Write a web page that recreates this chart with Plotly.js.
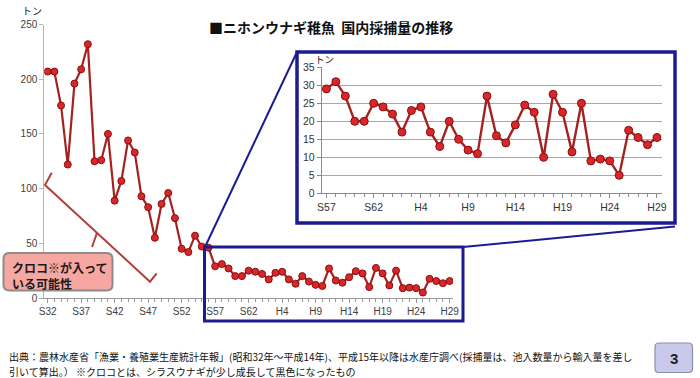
<!DOCTYPE html>
<html>
<head>
<meta charset="utf-8">
<script src="https://cdn.plot.ly/plotly-3.0.1.min.js"></script>
<style>
html,body{margin:0;padding:0;background:#fff;}
#chart{width:700px;height:378px;}
</style>
</head>
<body>
<div id="chart"></div>
<script>
// ---- data ----
const earlyYears = [1957,1958,1959,1960,1961,1962,1963,1964,1965,1966,1967,1968,1969,1970,1971,1972,1973,1974,1975,1976,1977,1978,1979,1980,1981];
const earlyCatch = [207,207,176,122,196,209,232,125,126,150,89,107,144,133,93,83,55,86,96,73,45,42,57,47,46];
const recentYears = [1982,1983,1984,1985,1986,1987,1988,1989,1990,1991,1992,1993,1994,1995,1996,1997,1998,1999,2000,2001,2002,2003,2004,2005,2006,2007,2008,2009,2010,2011,2012,2013,2014,2015,2016,2017];
const recentCatch = [29,31,27,20,20,25,24,22,17,23,24,17,13,20,15,12,11,27,16,14,19,24.5,22.5,10,27.5,22.5,11.5,25,9,9.5,9,5,17.5,15.5,13.5,15.5];
const mainTickYears = [1957,1962,1967,1972,1977,1982,1987,1992,1997,2002,2007,2012,2017];
const mainTickLabels = ['S32','S37','S42','S47','S52','S57','S62','H4','H9','H14','H19','H24','H29'];
const insetTickYears = [1982,1987,1992,1997,2002,2007,2012,2017];
const insetTickLabels = ['S57','S62','H4','H9','H14','H19','H24','H29'];
const unitLabel = 'トン';
const titleText = '■ニホンウナギ稚魚\u00a0\u00a0国内採捕量の推移';
const noteLines = ['クロコ※が入って','いる可能性'];
const footerLines = [
  '出典：農林水産省「漁業・養殖業生産統計年報」(昭和32年～平成14年)、平成15年以降は水産庁調べ(採捕量は、池入数量から輸入量を差し',
  '引いて算出。）\u00a0※クロコとは、シラスウナギが少し成長して黒色になったもの'
];
const pageNumber = '3';

// ---- helpers (pixel -> paper) ----
const W = 700, H = 378;
const px = x => x / W;
const py = y => 1 - y / H;
function P(x, y){ return px(x).toFixed(5) + ',' + py(y).toFixed(5); }
function roundRect(x0, y0, x1, y1, r){
  return 'M' + P(x0+r,y0) + ' L' + P(x1-r,y0) + ' Q' + P(x1,y0) + ' ' + P(x1,y0+r) +
         ' L' + P(x1,y1-r) + ' Q' + P(x1,y1) + ' ' + P(x1-r,y1) +
         ' L' + P(x0+r,y1) + ' Q' + P(x0,y1) + ' ' + P(x0,y1-r) +
         ' L' + P(x0,y0+r) + ' Q' + P(x0,y0) + ' ' + P(x0+r,y0) + ' Z';
}

const lineCol = '#a3221f';
const markFill = '#d8262a';
const markLine = '#8a0f0f';
const navy = '#1b1b93';
const jp = '"Noto Sans CJK JP", "Noto Sans", sans-serif';
const latin = '"Liberation Sans", Arial, sans-serif';

const mainYears = earlyYears.concat(recentYears);
const mainCatch = earlyCatch.concat(recentCatch);

const traces = [
  {x: mainYears, y: mainCatch, xaxis:'x', yaxis:'y', type:'scatter', mode:'lines+markers',
   line:{color:lineCol, width:2.2},
   marker:{size:7, color:markFill, line:{color:markLine, width:1}},
   hoverinfo:'skip', showlegend:false},
  {x: recentYears, y: recentCatch, xaxis:'x2', yaxis:'y2', type:'scatter', mode:'lines+markers',
   line:{color:lineCol, width:2.4},
   marker:{size:8, color:markFill, line:{color:markLine, width:1}},
   hoverinfo:'skip', showlegend:false}
];

const tickFont = {family: latin, size: 10, color: '#404040'};

const layout = {
  width: W, height: H, autosize: false,
  margin: {l:0, r:0, t:0, b:0},
  paper_bgcolor: '#ffffff', plot_bgcolor: 'rgba(0,0,0,0)',
  showlegend: false,
  xaxis: {domain:[px(44.3), px(453)], range:[1956.5, 2017.5], anchor:'y',
    tickmode:'array', tickvals: mainTickYears, ticktext: mainTickLabels,
    ticks:'outside', ticklen:4, tickcolor:'#9a9a9a', showline:true, linecolor:'#9a9a9a', linewidth:1,
    showgrid:false, zeroline:false, tickfont: tickFont, fixedrange:true,
    minor:{tickmode:'linear', tick0:1957, dtick:1, ticks:'outside', ticklen:3, tickcolor:'#9a9a9a', showgrid:false}},
  yaxis: {domain:[py(298), py(24.5)], range:[0, 250], anchor:'x',
    tickmode:'linear', tick0:0, dtick:50,
    ticks:'outside', ticklen:4, tickcolor:'#b5b5b5', showline:true, linecolor:'#b5b5b5', linewidth:1,
    showgrid:false, zeroline:false, tickfont: tickFont, fixedrange:true},
  xaxis2: {domain:[px(321.7), px(661.7)], range:[1981.5, 2017.5], anchor:'y2',
    tickmode:'array', tickvals: insetTickYears, ticktext: insetTickLabels,
    ticks:'outside', ticklen:4, tickcolor:'#8a8a8a', showline:true, linecolor:'#8a8a8a', linewidth:1,
    showgrid:false, zeroline:false, tickfont:{family: latin, size: 10.5, color:'#333'}, fixedrange:true,
    minor:{tickmode:'linear', tick0:1982, dtick:1, ticks:'outside', ticklen:3, tickcolor:'#8a8a8a', showgrid:false}},
  yaxis2: {domain:[py(193.3), py(67.3)], range:[0, 35], anchor:'x2',
    tickmode:'linear', tick0:0, dtick:5,
    ticks:'outside', ticklen:4, tickcolor:'#8a8a8a', showline:true, linecolor:'#8a8a8a', linewidth:1,
    showgrid:true, gridcolor:'#a8a8a8', gridwidth:1, zeroline:false,
    tickfont:{family: latin, size: 10.5, color:'#333'}, fixedrange:true},
  shapes: [
    // inset frame
    {type:'rect', xref:'paper', yref:'paper', x0:px(297), x1:px(675), y0:py(223), y1:py(52),
     line:{color:navy, width:3.5}, fillcolor:'rgba(0,0,0,0)', layer:'above'},
    // zoomed region frame
    {type:'rect', xref:'paper', yref:'paper', x0:px(204.5), x1:px(463), y0:py(321), y1:py(247),
     line:{color:navy, width:3}, fillcolor:'rgba(0,0,0,0)', layer:'above'},
    // connectors
    {type:'line', xref:'paper', yref:'paper', x0:px(205), y0:py(247), x1:px(297), y1:py(52),
     line:{color:navy, width:2}, layer:'above'},
    {type:'line', xref:'paper', yref:'paper', x0:px(463), y0:py(247), x1:px(675), y1:py(226.5),
     line:{color:navy, width:2}, layer:'above'},
    // bracket
    {type:'path', xref:'paper', yref:'paper',
     path:'M' + P(51.7,172.7) + ' L' + P(45,185) + ' L' + P(150,281.7) + ' L' + P(156.7,273.3),
     line:{color:'#b2403b', width:2}, layer:'above'},
    {type:'path', xref:'paper', yref:'paper',
     path:'M' + P(97,232.8) + ' L' + P(92,247),
     line:{color:'#b2403b', width:2}, layer:'above'},
    // note box
    {type:'path', xref:'paper', yref:'paper', path: roundRect(3.5, 253, 112.5, 290.5, 6),
     fillcolor:'#f6a7a1', line:{color:'#8c8c8c', width:2}, layer:'above'},
    // page number box
    {type:'path', xref:'paper', yref:'paper', path: roundRect(655, 343, 692.5, 372.5, 4),
     fillcolor:'#c9c9ec', line:{color:'#8e8ea8', width:1.2}, layer:'above'}
  ],
  annotations: [
    {xref:'paper', yref:'paper', x:px(331), y:py(26.5), xanchor:'center', yanchor:'middle',
     text: '<b>' + titleText + '</b>', showarrow:false, font:{family: jp, size:14, color:'#111'}},
    {xref:'paper', yref:'paper', x:px(32), y:py(10), xanchor:'center', yanchor:'middle',
     text: unitLabel, showarrow:false, font:{family: jp, size:10, color:'#222'}},
    {xref:'paper', yref:'paper', x:px(324), y:py(59), xanchor:'center', yanchor:'middle',
     text: unitLabel, showarrow:false, font:{family: jp, size:9.5, color:'#222'}},
    {xref:'paper', yref:'paper', x:px(10), y:py(267.5), xanchor:'left', yanchor:'middle',
     text: '<b>' + noteLines[0] + '</b>', showarrow:false, font:{family: jp, size:12, color:'#1a1a1a'}},
    {xref:'paper', yref:'paper', x:px(10), y:py(283), xanchor:'left', yanchor:'middle',
     text: '<b>' + noteLines[1] + '</b>', showarrow:false, font:{family: jp, size:12, color:'#1a1a1a'}},
    {xref:'paper', yref:'paper', x:px(7), y:py(356.7), xanchor:'left', yanchor:'middle',
     text: footerLines[0], showarrow:false, font:{family: jp, size:10, color:'#111'}},
    {xref:'paper', yref:'paper', x:px(7), y:py(371), xanchor:'left', yanchor:'middle',
     text: footerLines[1], showarrow:false, font:{family: jp, size:10, color:'#111'}},
    {xref:'paper', yref:'paper', x:px(674), y:py(358), xanchor:'center', yanchor:'middle',
     text: '<b>' + pageNumber + '</b>', showarrow:false, font:{family: latin, size:15, color:'#222'}}
  ]
};

Plotly.newPlot('chart', traces, layout, {staticPlot:true, displayModeBar:false});
</script>
</body>
</html>
